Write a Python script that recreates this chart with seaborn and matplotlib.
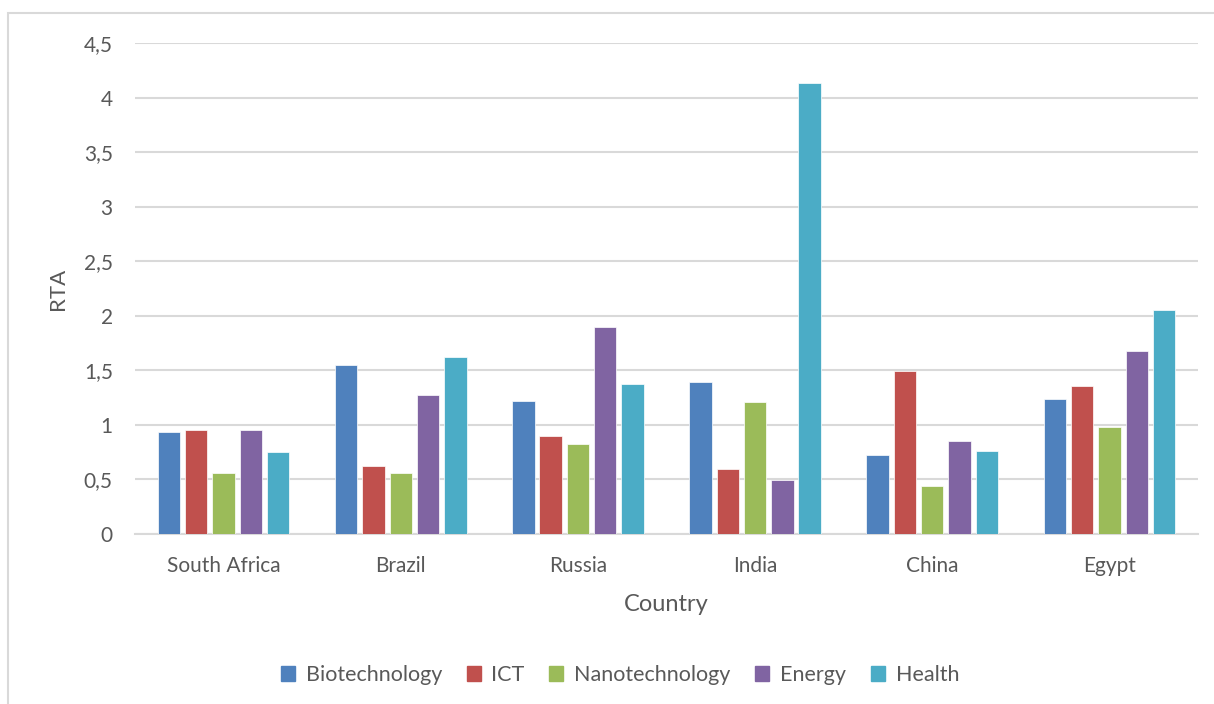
import numpy as np
import pandas as pd
import matplotlib
matplotlib.use("Agg")
import matplotlib.pyplot as plt
import seaborn as sns
from matplotlib.ticker import FuncFormatter
from matplotlib.patches import Rectangle

countries = ["South Africa", "Brazil", "Russia", "India", "China", "Egypt"]
fields = ["Biotechnology", "ICT", "Nanotechnology", "Energy", "Health"]
biotechnology = [0.935, 1.545, 1.215, 1.395, 0.725, 1.235]
ict = [0.95, 0.62, 0.90, 0.60, 1.49, 1.355]
nanotechnology = [0.56, 0.555, 0.825, 1.21, 0.44, 0.98]
energy = [0.955, 1.27, 1.90, 0.495, 0.855, 1.675]
health = [0.75, 1.62, 1.375, 4.135, 0.765, 2.05]
yticks = [0, 0.5, 1, 1.5, 2, 2.5, 3, 3.5, 4, 4.5]

colors = ["#4F81BD", "#C0504D", "#9BBB59", "#8064A2", "#4BACC6"]

series = [biotechnology, ict, nanotechnology, energy, health]
rows = []
for f, vals in zip(fields, series):
    for c, v in zip(countries, vals):
        rows.append({"Country": c, "Field": f, "RTA": v})
df = pd.DataFrame(rows)

sns.set_theme(style="white")
plt.rcParams["font.family"] = ["Lato", "DejaVu Sans"]

fig = plt.figure(figsize=(12.14, 7.04), dpi=100)
ax = fig.add_axes([135 / 1214, 1 - 534 / 704, (1198 - 135) / 1214, (534 - 43) / 704])

sns.barplot(data=df, x="Country", y="RTA", hue="Field", order=countries,
            hue_order=fields, palette=colors, saturation=1, width=0.77, gap=0.18,
            edgecolor="#FFFFFF", linewidth=0.5, ax=ax, zorder=3)

ax.set_ylim(0, 4.5)
ax.set_xlim(-0.5, 5.5)
ax.set_yticks(yticks)
ax.yaxis.set_major_formatter(FuncFormatter(lambda v, p: f"{v:g}".replace(".", ",")))
ax.grid(axis="y", color="#D9D9D9", linewidth=1.5, zorder=0)
ax.set_axisbelow(True)
for s in ["top", "right", "left"]:
    ax.spines[s].set_visible(False)
ax.spines["bottom"].set_color("#D9D9D9")
ax.spines["bottom"].set_linewidth(1.5)
ax.tick_params(axis="both", length=0, labelsize=15, labelcolor="#595959")
ax.tick_params(axis="y", pad=16)
ax.tick_params(axis="x", pad=16)
ax.set_xlabel("Country", fontsize=17, color="#595959", labelpad=13)
ax.set_ylabel("RTA", fontsize=16, color="#595959", labelpad=11)

ax.legend_.remove()
handles = [Rectangle((0, 0), 1, 1, color=c) for c in colors]
fig.legend(handles, fields, loc="center", bbox_to_anchor=(620 / 1214, 1 - 675 / 704),
           ncol=5, frameon=False, fontsize=15.5, handlelength=0.65, handleheight=0.65,
           handletextpad=0.5, columnspacing=1.15, labelcolor="#595959")

fig.patches.append(Rectangle((8 / 1214, -0.01), 1.02, 1 - 13 / 704 + 0.01,
                             transform=fig.transFigure, fill=False,
                             edgecolor="#D9D9D9", linewidth=1.5))

fig.savefig("out.png", dpi=100)
